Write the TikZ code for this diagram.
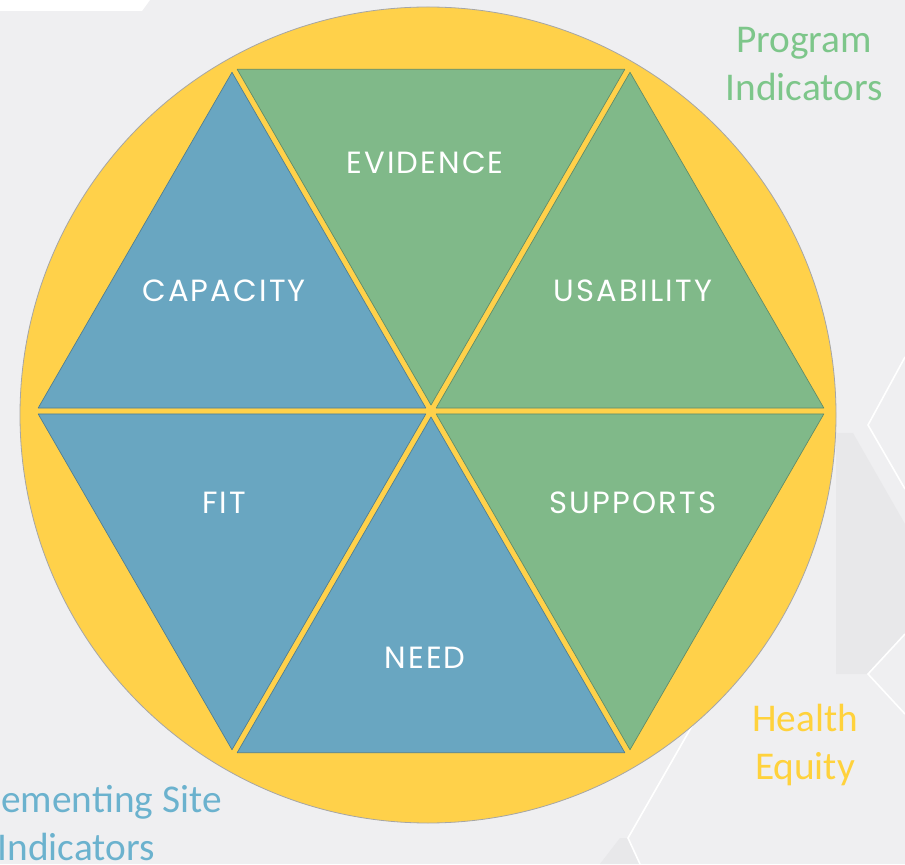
\documentclass[tikz,border=0pt]{standalone}
\usepackage{fontspec}
\setmainfont{Carlito}
\newfontfamily\tilefont[LetterSpace=7]{Poppins}
\usetikzlibrary{calc}

\definecolor{bggray}{HTML}{EFEFF1}
\definecolor{bgdark}{HTML}{E8E8EA}
\definecolor{ringyellow}{HTML}{FFD14A}
\definecolor{tileblue}{HTML}{69A6C1}
\definecolor{tilegreen}{HTML}{80B989}
\definecolor{progreen}{HTML}{7DC68A}
\definecolor{equityyellow}{HTML}{FFD23C}
\definecolor{siteblue}{HTML}{6BB2CE}

\begin{document}
\begin{tikzpicture}[x=0.75pt,y=0.75pt,
    tile/.style={line width=0.5pt,line join=round},
    tilelabel/.style={font=\tilefont\fontsize{23}{23}\selectfont,text=white},
    sidelabel/.style={font=\fontsize{29.5}{36}\selectfont,align=center}]
  \useasboundingbox (0,0) rectangle (905,864);
  \clip (0,0) rectangle (905,864);
  % background with faint hexagons
  \fill[bggray] (0,0) rectangle (905,864);
  \fill[white] (0,864) -- (150,864) -- (142,853) -- (0,853) -- cycle;
  \fill[bgdark] (836,431) -- (853,431) -- (905,340) -- (905,230) -- (868,190) -- (836,190) -- cycle;
  \fill[bgdark] (600,0) -- (620,26) -- (628,26) -- (640,0) -- cycle;
  \draw[white,line width=1.2pt] (905,507) -- (868,439) -- (905,375);
  \draw[white,line width=1.2pt] (700,152) -- (628,26) -- (640,0);
  \draw[white,line width=1.2pt] (905,230) -- (868,190) -- (905,150);

  % yellow ring
  \coordinate (C) at (428,449);
  \filldraw[fill=ringyellow,draw=gray!70,line width=0.6pt] (C) circle (408);

  % hexagon of six tiles
  \coordinate (O) at (431,453);
  \foreach \a/\col in {0/tilegreen,60/tilegreen,120/tileblue,180/tileblue,240/tileblue,300/tilegreen}{
    \pgfmathsetmacro\mid{\a+30}
    \pgfmathsetmacro\nxt{\a+60}
    \coordinate (c) at ($(O)+(\mid:229.8)$);
    \filldraw[tile,fill=\col,draw=\col!75!black]
      ($(c)!0.974!(O)$) -- ($(c)!0.974!($(O)+(\a:398)$)$)
      -- ($(c)!0.974!($(O)+(\nxt:398)$)$) -- cycle;
  }

  % tile labels
  \node[tilelabel] (evidence) at ($(O)+(-6,248)$) {EVIDENCE};
  \node[tilelabel] (capacity) at ($(O)+(-207,120)$) {CAPACITY};
  \node[tilelabel] (usability) at ($(O)+(202,120)$) {USABILITY};
  \node[tilelabel] (fit) at ($(O)+(-207,-92)$) {FIT};
  \node[tilelabel] (supports) at ($(O)+(202,-92)$) {SUPPORTS};
  \node[tilelabel] (need) at ($(O)+(-6,-247)$) {NEED};

  % outer labels
  \node[sidelabel,text=progreen] (program) at (804,800) {Program\\Indicators};
  \node[sidelabel,text=equityyellow] (equity) at (805,119) {Health\\Equity};
  \node[sidelabel,text=siteblue] (site) at (76,41) {Implementing Site\\Indicators};
\end{tikzpicture}
\end{document}
